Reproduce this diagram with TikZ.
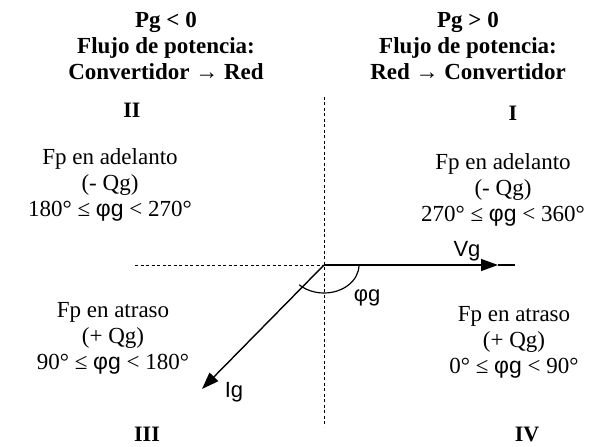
\documentclass[tikz,border=0pt]{standalone}
\usepackage{fontspec}
\setmainfont{Liberation Serif}
\newfontfamily\arialfont{Liberation Sans}
\usepackage{tikz}
\usetikzlibrary{arrows.meta}

\begin{document}
\begin{tikzpicture}[
  x=1pt, y=1pt,
  axis/.style={densely dashed, line width=0.6pt, dash pattern=on 3pt off 2.5pt},
  vec/.style={line width=1.4pt, -{Triangle[length=17pt, width=12pt]}},
  head/.style={align=center, font=\fontsize{23}{26}\selectfont\bfseries},
  quad/.style={align=center, font=\fontsize{23}{26}\selectfont},
  num/.style={font=\fontsize{22}{26}\selectfont\bfseries},
  lbl/.style={font=\fontsize{22}{26}\selectfont\arialfont}
]
\useasboundingbox (0,0) rectangle (600,447);
% axes and phasors
\coordinate (O) at (324,182);
\coordinate (top) at (324,350);
\coordinate (bot) at (324,20);
\coordinate (left) at (135,182);
\coordinate (vtip) at (498,182);
\coordinate (vend) at (515,182);
\coordinate (itip) at (202,58);
\draw[axis] (top)--(bot);
\draw[axis] (left)--(O);
\draw[vec] (O)--(vtip);
\draw[line width=1.4pt] (vtip)--(vend);
\draw[vec] (O)--(itip);
\draw[line width=1.2pt] ([xshift=35pt]O) arc[start angle=0, end angle=-135, x radius=35, y radius=28];
\node[lbl] (vg) at (467,196) {Vg};
\node[lbl] (ig) at (234,55) {Ig};
\node[lbl] (phi) at (367,149) {φg};
% headers
\node[head] (neg) at (166,401) {Pg < 0\\Flujo de potencia:\\Convertidor → Red};
\node[head] (pos) at (468,401) {Pg > 0\\Flujo de potencia:\\Red → Convertidor};
% quadrants
\node[num] (q2) at (132,337) {II};
\node[num] (q1) at (513,334) {I};
\node[num] (q3) at (147,13) {III};
\node[num] (q4) at (527,13) {IV};
\node[quad] (t2) at (110,262) {Fp en adelanto\\(- Qg)\\180° ≤ {\arialfont φg} < 270°};
\node[quad] (t1) at (503,257) {Fp en adelanto\\(- Qg)\\270° ≤ {\arialfont φg} < 360°};
\node[quad] (t3) at (113,109) {Fp en atraso\\(+ Qg)\\90° ≤ {\arialfont φg} < 180°};
\node[quad] (t4) at (514,105) {Fp en atraso\\(+ Qg)\\0° ≤ {\arialfont φg} < 90°};
\end{tikzpicture}
\end{document}
